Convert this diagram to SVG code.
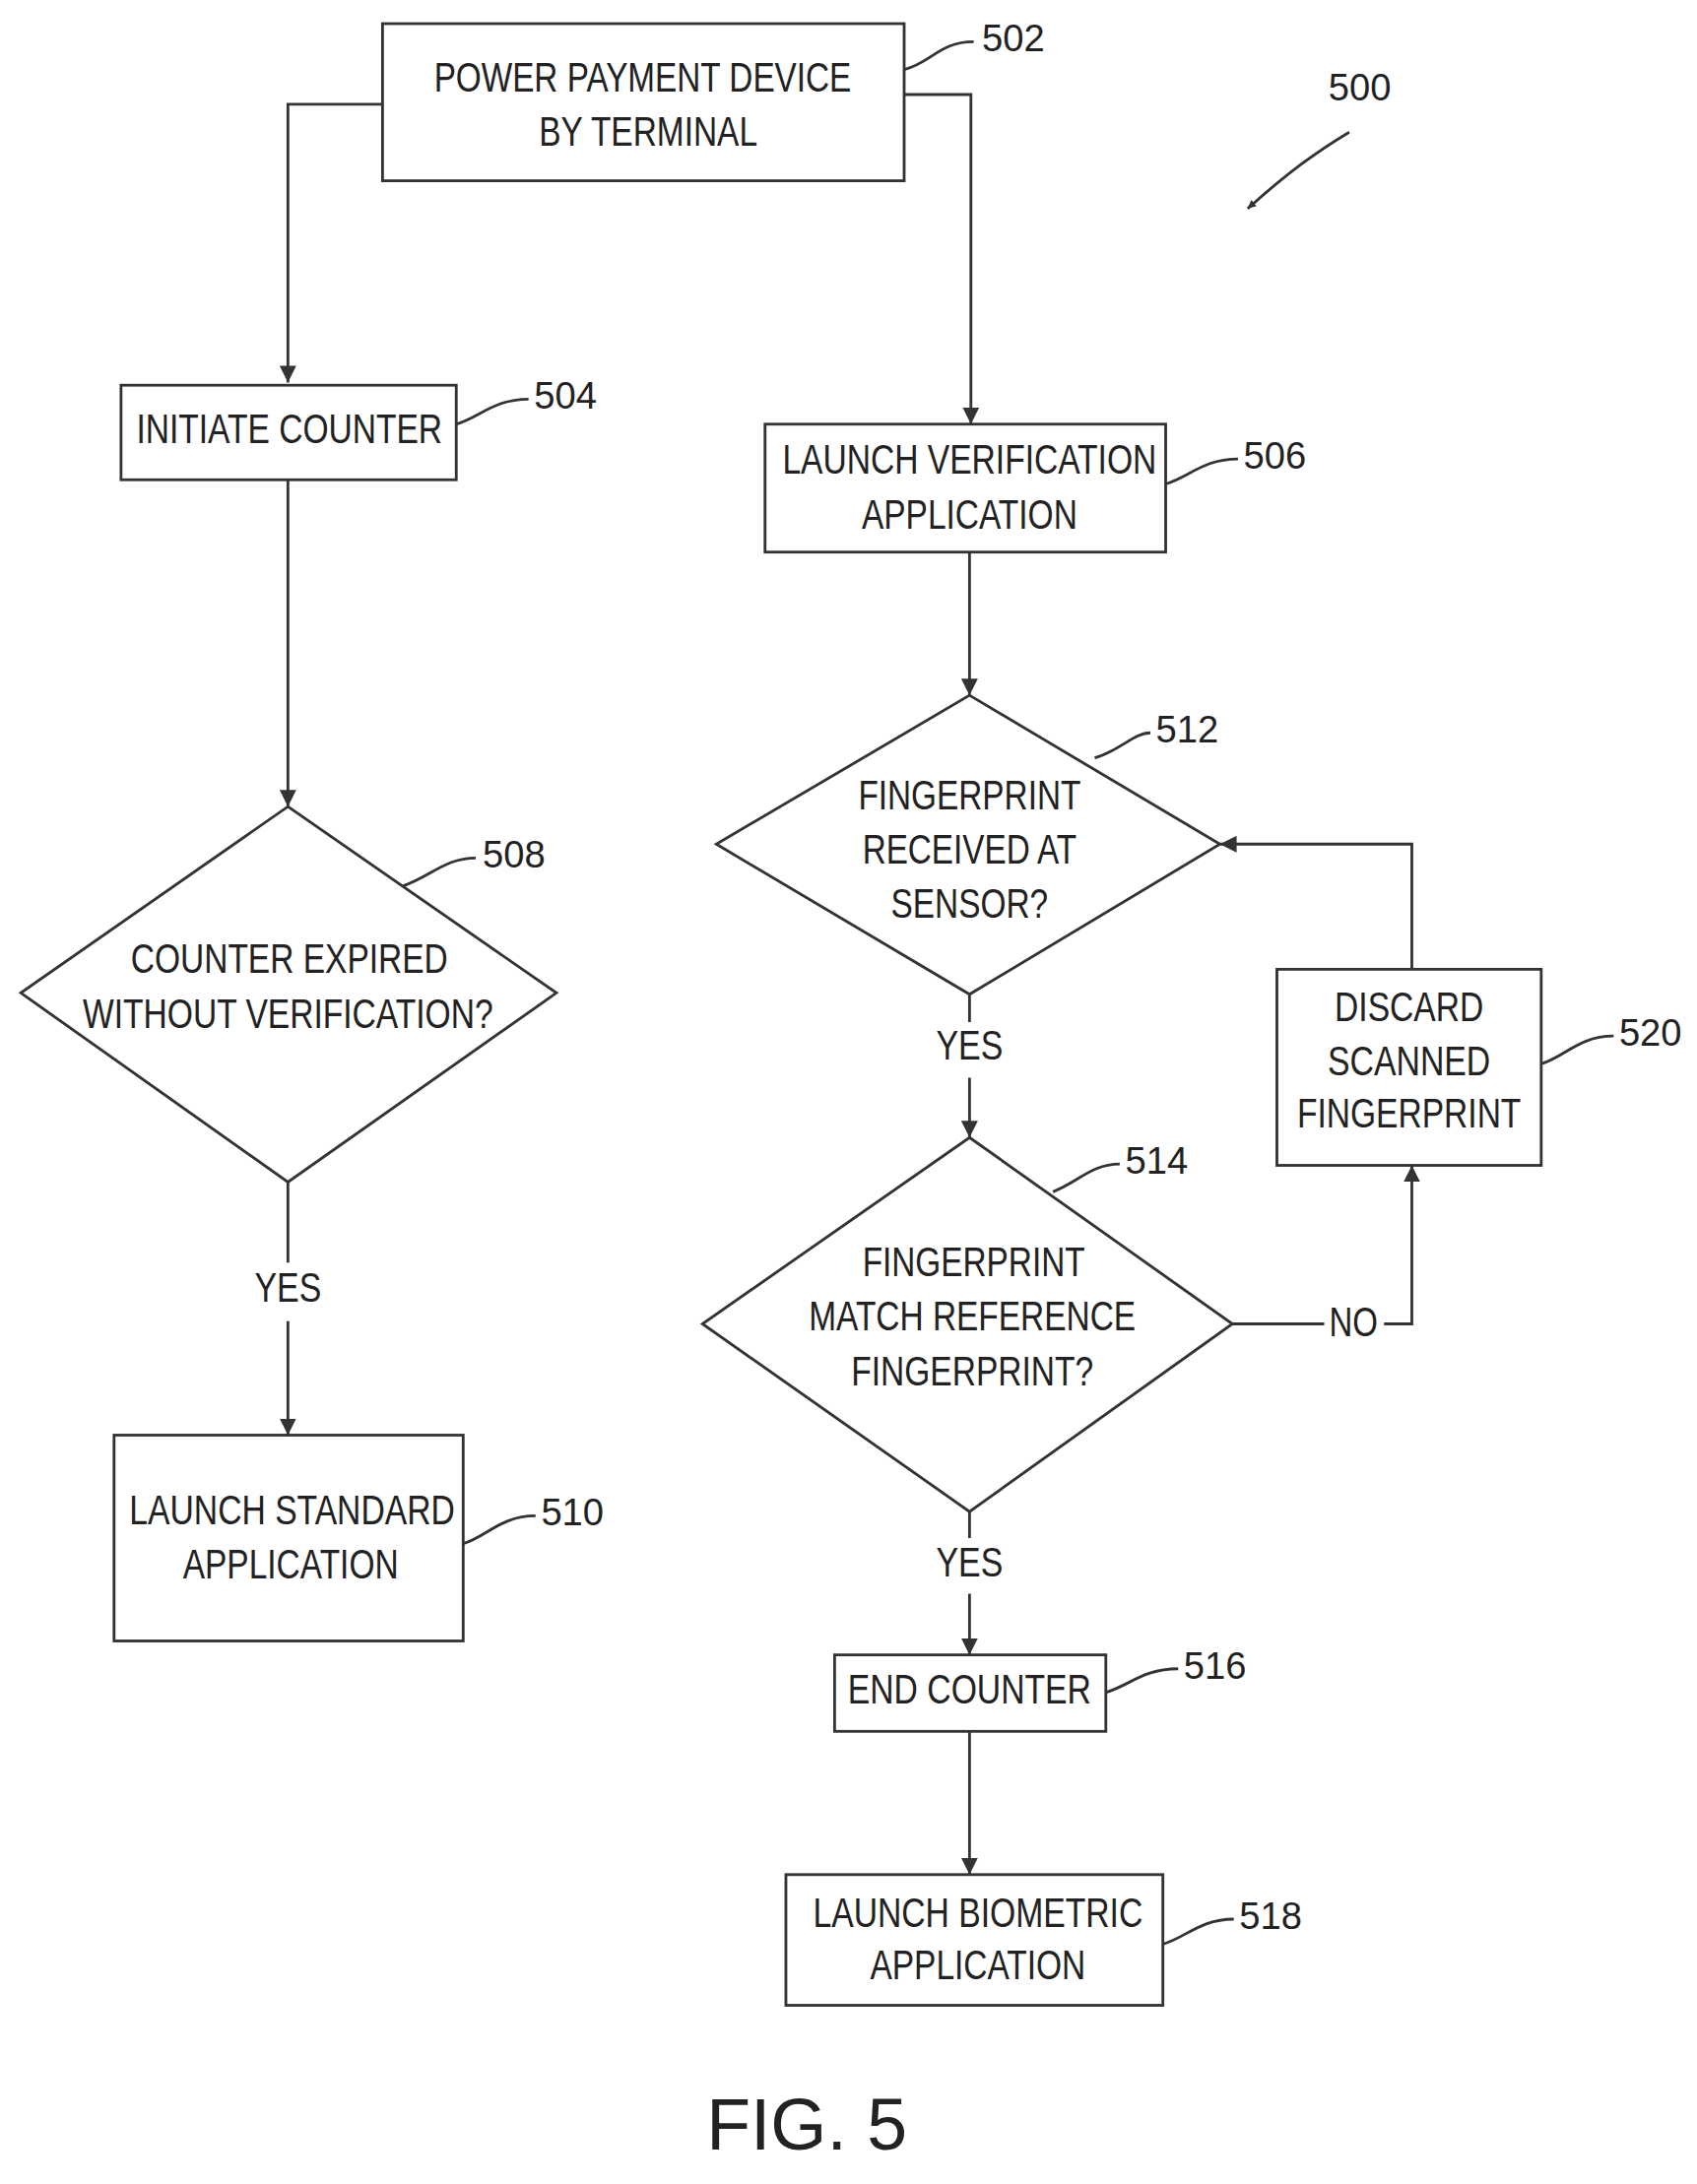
<svg xmlns="http://www.w3.org/2000/svg" width="1723" height="2218" viewBox="0 0 1723 2218">
<style>
.b{fill:none;stroke:#333;stroke-width:2}
.c{fill:none;stroke:#333;stroke-width:2}
text{font-family:"Liberation Sans",Arial,sans-serif;font-size:30px;fill:#222;text-anchor:middle;dominant-baseline:middle}
.n{font-size:27px;text-anchor:start}
</style>
<defs><marker id="a" viewBox="0 0 10 10" refX="10" refY="5" markerWidth="6" markerHeight="6" orient="auto" markerUnits="userSpaceOnUse"><path d="M0,0 L10,5 L0,10 z" fill="#333"/></marker>
<marker id="m" viewBox="0 0 10 10" refX="10" refY="5" markerWidth="12" markerHeight="12" orient="auto" markerUnits="userSpaceOnUse"><path d="M0,0 L10,5 L0,10 z" fill="#333"/></marker></defs>
<rect width="1723" height="2218" fill="#fff"/>
<g transform="scale(1.4123)">
<g id="connectors">
<path class="c" d="M275,75 H207 V275" marker-end="url(#m)"/>
<path class="c" d="M650,68 H698 V305" marker-end="url(#m)"/>
<path class="c" d="M207,345 V580" marker-end="url(#m)"/>
<path class="c" d="M207,850 V908 M207,950 V1032" marker-end="url(#m)"/>
<path class="c" d="M697,397 V500" marker-end="url(#m)"/>
<path class="c" d="M697,715 V735 M697,775 V818" marker-end="url(#m)"/>
<path class="c" d="M886,952 H952 M995,952 H1015 V838" marker-end="url(#m)"/>
<path class="c" d="M1015,697 V607 H877" marker-end="url(#m)"/>
<path class="c" d="M697,1087 V1106 M697,1146 V1190" marker-end="url(#m)"/>
<path class="c" d="M697,1245 V1348" marker-end="url(#m)"/>
<text x="207" y="928" textLength="48" lengthAdjust="spacingAndGlyphs">YES</text>
<text x="697" y="754" textLength="48" lengthAdjust="spacingAndGlyphs">YES</text>
<text x="973" y="953" textLength="35" lengthAdjust="spacingAndGlyphs">NO</text>
<text x="697" y="1126" textLength="48" lengthAdjust="spacingAndGlyphs">YES</text>
<path class="c" d="M650,50 C670,45 675,30 700,30"/>
<path class="c" d="M328,305 C345,300 355,287 380,287"/>
<path class="c" d="M838,348 C855,343 865,330 890,330"/>
<path class="c" d="M290,637 C310,630 320,617 342,617"/>
<path class="c" d="M333,1110 C350,1105 360,1090 385,1090"/>
<path class="c" d="M787,545 C805,540 815,527 827,527"/>
<path class="c" d="M757,857 C775,850 785,837 805,837"/>
<path class="c" d="M1108,765 C1125,760 1135,745 1160,745"/>
<path class="c" d="M795,1217 C812,1212 822,1200 847,1200"/>
<path class="c" d="M836,1398 C853,1393 863,1380 887,1380"/>
<path class="c" d="M970,95 C945,110 925,125 897,150" marker-end="url(#a)"/>
</g>
<g id="n502"><rect class="b" x="275" y="17" width="375" height="113"/><text x="462" y="58" textLength="300" lengthAdjust="spacingAndGlyphs">POWER PAYMENT DEVICE</text><text x="466" y="97" textLength="157" lengthAdjust="spacingAndGlyphs">BY TERMINAL</text><text class="n" x="706" y="30">502</text></g>
<g id="n500"><text class="n" x="955" y="65">500</text></g>
<g id="n504"><rect class="b" x="87" y="277" width="241" height="68"/><text x="208" y="311" textLength="220" lengthAdjust="spacingAndGlyphs">INITIATE COUNTER</text><text class="n" x="384" y="287">504</text></g>
<g id="n506"><rect class="b" x="550" y="305" width="288" height="92"/><text x="697" y="333" textLength="269" lengthAdjust="spacingAndGlyphs">LAUNCH VERIFICATION</text><text x="697" y="372" textLength="155" lengthAdjust="spacingAndGlyphs">APPLICATION</text><text class="n" x="894" y="330">506</text></g>
<g id="n508"><path class="b" d="M207,580 L400,714 L207,850 L15,714 Z"/><text x="208" y="692" textLength="228" lengthAdjust="spacingAndGlyphs">COUNTER EXPIRED</text><text x="207" y="731" textLength="295" lengthAdjust="spacingAndGlyphs">WITHOUT VERIFICATION?</text><text class="n" x="347" y="617">508</text></g>
<g id="n510"><rect class="b" x="82" y="1032" width="251" height="148"/><text x="210" y="1088" textLength="234" lengthAdjust="spacingAndGlyphs">LAUNCH STANDARD</text><text x="209" y="1127" textLength="155" lengthAdjust="spacingAndGlyphs">APPLICATION</text><text class="n" x="389" y="1090">510</text></g>
<g id="n512"><path class="b" d="M697,500 L877,607 L697,715 L515,607 Z"/><text x="697" y="574" textLength="160" lengthAdjust="spacingAndGlyphs">FINGERPRINT</text><text x="697" y="613" textLength="154" lengthAdjust="spacingAndGlyphs">RECEIVED AT</text><text x="697" y="652" textLength="113" lengthAdjust="spacingAndGlyphs">SENSOR?</text><text class="n" x="831" y="527">512</text></g>
<g id="n514"><path class="b" d="M697,818 L886,952 L697,1087 L505,952 Z"/><text x="700" y="910" textLength="160" lengthAdjust="spacingAndGlyphs">FINGERPRINT</text><text x="699" y="949" textLength="235" lengthAdjust="spacingAndGlyphs">MATCH REFERENCE</text><text x="699" y="988" textLength="174" lengthAdjust="spacingAndGlyphs">FINGERPRINT?</text><text class="n" x="809" y="837">514</text></g>
<g id="n520"><rect class="b" x="918" y="697" width="190" height="141"/><text x="1013" y="726" textLength="107" lengthAdjust="spacingAndGlyphs">DISCARD</text><text x="1013" y="765" textLength="117" lengthAdjust="spacingAndGlyphs">SCANNED</text><text x="1013" y="803" textLength="161" lengthAdjust="spacingAndGlyphs">FINGERPRINT</text><text class="n" x="1164" y="745">520</text></g>
<g id="n516"><rect class="b" x="600" y="1190" width="195" height="55"/><text x="697" y="1217" textLength="175" lengthAdjust="spacingAndGlyphs">END COUNTER</text><text class="n" x="851" y="1200">516</text></g>
<g id="n518"><rect class="b" x="565" y="1348" width="271" height="94"/><text x="703" y="1378" textLength="237" lengthAdjust="spacingAndGlyphs">LAUNCH BIOMETRIC</text><text x="703" y="1415" textLength="155" lengthAdjust="spacingAndGlyphs">APPLICATION</text><text class="n" x="891" y="1380">518</text></g>
<text x="580" y="1532" style="font-family:'Liberation Sans',Arial,sans-serif;font-size:52px">FIG. 5</text>
</g>
</svg>
